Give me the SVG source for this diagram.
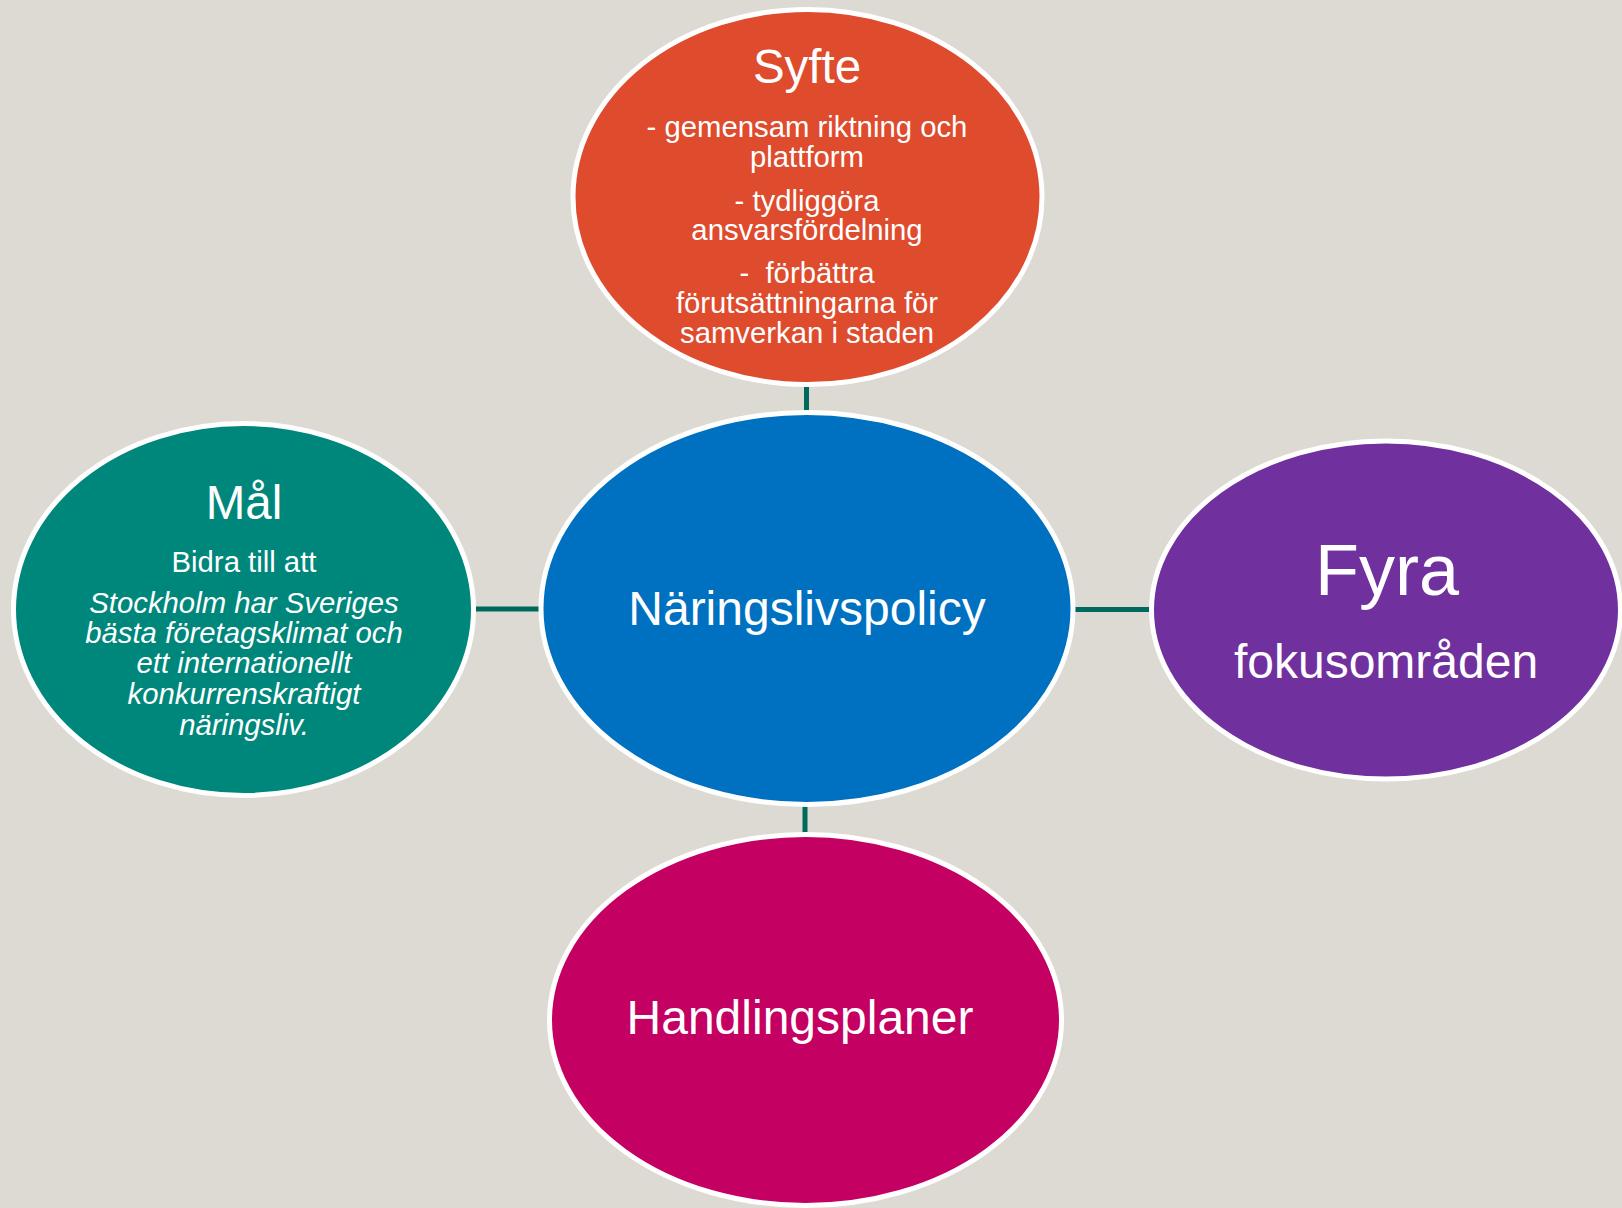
<svg xmlns="http://www.w3.org/2000/svg" width="1622" height="1208" viewBox="0 0 1622 1208">
<style>
.node{stroke:#FFFFFF;stroke-width:5}
.conn{stroke:#00695E;stroke-width:5;fill:none}
text{font-family:"Liberation Sans",Arial,sans-serif;fill:#FFFFFF;text-anchor:middle}
.title{font-size:47.5px}
.body{font-size:29.3px}
.it{font-size:29.3px;font-style:italic}
</style>
<rect width="1622" height="1208" fill="#DDDAD3"/>
<g id="connectors">
<line class="conn" x1="806.5" y1="383" x2="806.5" y2="412"/>
<line class="conn" x1="476" y1="609" x2="540" y2="609"/>
<line class="conn" x1="1074" y1="609.5" x2="1150" y2="609.5"/>
<line class="conn" x1="805" y1="804" x2="805" y2="835"/>
</g>
<g id="syfte">
<ellipse class="node" cx="807.5" cy="197" rx="234.5" ry="187.5" fill="#DE4B2D"/>
<text class="title" x="807" y="83">Syfte</text>
<text class="body" x="807" y="137">- gemensam riktning och</text>
<text class="body" x="807" y="167">plattform</text>
<text class="body" x="807" y="211">- tydliggöra</text>
<text class="body" x="807" y="240">ansvarsfördelning</text>
<text class="body" x="807" y="283" xml:space="preserve">-  förbättra</text>
<text class="body" x="807" y="313">förutsättningarna för</text>
<text class="body" x="807" y="343">samverkan i staden</text>
</g>
<g id="naringslivspolicy">
<ellipse class="node" cx="807" cy="608.5" rx="266" ry="196" fill="#0070C0"/>
<text x="807" y="625" style="font-size:48px">Näringslivspolicy</text>
</g>
<g id="mal">
<ellipse class="node" cx="243.5" cy="609.5" rx="230" ry="186" fill="#00877B"/>
<text class="title" x="244" y="519">Mål</text>
<text class="body" x="244" y="572">Bidra till att</text>
<text class="it" x="244" y="613">Stockholm har Sveriges</text>
<text class="it" x="244" y="643">bästa företagsklimat och</text>
<text class="it" x="244" y="673">ett internationellt</text>
<text class="it" x="244" y="704">konkurrenskraftigt</text>
<text class="it" x="244" y="735">näringsliv.</text>
</g>
<g id="fyra">
<ellipse class="node" cx="1386" cy="610" rx="234.5" ry="169" fill="#70309E"/>
<text x="1387" y="595" style="font-size:72px">Fyra</text>
<text x="1386" y="678" style="font-size:48px">fokusområden</text>
</g>
<g id="handlingsplaner">
<ellipse class="node" cx="805.5" cy="1020" rx="256" ry="185.5" fill="#C40062"/>
<text x="800" y="1034" style="font-size:48px">Handlingsplaner</text>
</g>
</svg>
